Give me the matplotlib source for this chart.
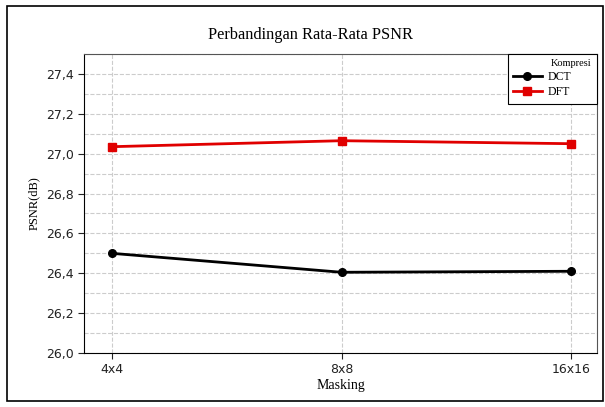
import matplotlib.pyplot as plt
from matplotlib.patches import Rectangle
from matplotlib.ticker import MultipleLocator, FuncFormatter

masking = ["4x4", "8x8", "16x16"]
dct = [26.50, 26.405, 26.41]
dft = [27.035, 27.065, 27.05]

fig = plt.figure(figsize=(6.05, 4.07), dpi=100)
ax = fig.add_axes([84 / 605, 1 - 353 / 407, (597 - 84) / 605, (353 - 54) / 407])

x = range(len(masking))
ax.plot(x, dct, color="black", lw=2, marker="o", ms=5.5, label="DCT", zorder=3)
ax.plot(x, dft, color="#e00000", lw=2, marker="s", ms=5.5, label="DFT", zorder=3)

ax.set_xlim(-0.122, 2.113)
ax.set_ylim(26.0, 27.5)
ax.set_xticks(list(x))
ax.set_xticklabels(masking)
ax.yaxis.set_major_locator(MultipleLocator(0.2))
ax.yaxis.set_minor_locator(MultipleLocator(0.1))
ax.yaxis.set_major_formatter(FuncFormatter(lambda v, p: f"{v:.1f}".replace(".", ",")))
ax.tick_params(axis="y", which="minor", length=0)
ax.tick_params(labelsize=9, length=4, colors="#222222")

ax.grid(True, which="both", axis="y", color="#cccccc", ls="--", lw=0.8)
ax.grid(True, which="major", axis="x", color="#cccccc", ls="--", lw=0.8)
ax.set_axisbelow(True)
for s in ["top", "right"]:
    ax.spines[s].set_color("#555555")

ax.set_xlabel("Masking", family="Liberation Serif", fontsize=10, labelpad=2)
ax.set_ylabel("PSNR(dB)", family="Liberation Serif", fontsize=9)
fig.text(311 / 605, 1 - 35 / 407, "Perbandingan Rata-Rata PSNR", family="Liberation Serif",
         fontsize=11.8, ha="center", va="center")

leg_w = (597 - 508) / 513
leg = ax.legend(loc="upper right", title="Kompresi", fancybox=False, framealpha=1,
                edgecolor="black", borderaxespad=0, handlelength=2.4, mode="expand",
                bbox_to_anchor=(1 - leg_w, 0, leg_w, 1),
                prop={"family": "Liberation Serif", "size": 8.5},
                title_fontproperties={"family": "Liberation Serif", "size": 7.5},
                borderpad=0.45, labelspacing=0.25, handletextpad=0.5)
leg._legend_box.align = "right"
leg.get_frame().set_linewidth(0.8)

fig.patches.append(Rectangle((7 / 605, 1 - 401 / 407), 596 / 605, 395 / 407,
                             transform=fig.transFigure, fill=False, ec="black", lw=1.2))

fig.savefig("out.png", dpi=100)
